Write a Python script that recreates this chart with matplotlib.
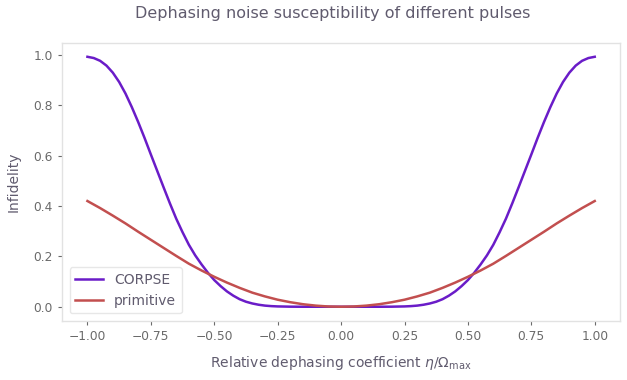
import matplotlib
matplotlib.use("Agg")
import matplotlib.pyplot as plt

# relative dephasing coefficient eta / Omega_max, CORPSE sampled more finely
eta_corpse = [-1.000, -0.975, -0.950, -0.925, -0.900, -0.875, -0.850, -0.825, -0.800, -0.775,
              -0.750, -0.725, -0.700, -0.675, -0.650, -0.625, -0.600, -0.575, -0.550, -0.525,
              -0.500, -0.475, -0.450, -0.425, -0.400, -0.375, -0.350, -0.325, -0.300, -0.275,
              -0.250, -0.200, -0.150, -0.100, 0.000, 0.100, 0.150, 0.200, 0.250,
              0.275, 0.300, 0.325, 0.350, 0.375, 0.400, 0.425, 0.450, 0.475, 0.500,
              0.525, 0.550, 0.575, 0.600, 0.625, 0.650, 0.675, 0.700, 0.725, 0.750,
              0.775, 0.800, 0.825, 0.850, 0.875, 0.900, 0.925, 0.950, 0.975, 1.000]

corpse = [0.993, 0.988, 0.977, 0.958, 0.930, 0.893, 0.847, 0.793, 0.734, 0.671,
          0.605, 0.540, 0.475, 0.411, 0.350, 0.296, 0.246, 0.204, 0.168, 0.135,
          0.106, 0.082, 0.061, 0.044, 0.030, 0.020, 0.013, 0.008, 0.0045, 0.0025,
          0.0013, 0.0003, 0.0, 0.0, 0.0, 0.0, 0.0, 0.0003, 0.0013,
          0.0025, 0.0045, 0.008, 0.013, 0.020, 0.030, 0.044, 0.061, 0.082, 0.106,
          0.135, 0.168, 0.204, 0.246, 0.296, 0.350, 0.411, 0.475, 0.540, 0.605,
          0.671, 0.734, 0.793, 0.847, 0.893, 0.930, 0.958, 0.977, 0.988, 0.993]

eta_prim = [-1.00, -0.95, -0.90, -0.85, -0.80, -0.75, -0.70, -0.65, -0.60, -0.55,
            -0.50, -0.45, -0.40, -0.35, -0.30, -0.25, -0.20, -0.15, -0.10, -0.05,
            0.00, 0.05, 0.10, 0.15, 0.20, 0.25, 0.30, 0.35, 0.40, 0.45,
            0.50, 0.55, 0.60, 0.65, 0.70, 0.75, 0.80, 0.85, 0.90, 0.95, 1.00]

primitive = [0.420, 0.392, 0.362, 0.331, 0.298, 0.266, 0.234, 0.202, 0.171, 0.144,
             0.119, 0.096, 0.075, 0.056, 0.041, 0.028, 0.018, 0.010, 0.0045, 0.001,
             0.0, 0.001, 0.0045, 0.010, 0.018, 0.028, 0.041, 0.056, 0.075, 0.096,
             0.119, 0.144, 0.171, 0.202, 0.234, 0.266, 0.298, 0.331, 0.362, 0.392, 0.420]

xtick_vals = [-1.0, -0.75, -0.5, -0.25, 0.0, 0.25, 0.5, 0.75, 1.0]
xtick_labels = ["\u22121.00", "\u22120.75", "\u22120.50", "\u22120.25", "0.00",
                "0.25", "0.50", "0.75", "1.00"]
ytick_vals = [0.0, 0.2, 0.4, 0.6, 0.8, 1.0]

text_col = "#605B6E"
tick_col = "#6A6A6A"
spine_col = "#E2E2E2"

fig = plt.figure(figsize=(6.27, 3.8), dpi=100)
ax = fig.add_axes([0.099, 0.155, 0.890, 0.732])

ax.plot(eta_corpse, corpse, color="#6A1CC8", lw=1.8, label="CORPSE")
ax.plot(eta_prim, primitive, color="#C24F4F", lw=1.8, label="primitive")

ax.set_xticks(xtick_vals)
ax.set_xticklabels(xtick_labels)
ax.set_yticks(ytick_vals)
ax.set_xlim(-1.1, 1.1)
ax.set_ylim(-0.057, 1.048)

for s in ax.spines.values():
    s.set_color(spine_col)
    s.set_linewidth(1.0)
ax.tick_params(colors=tick_col, labelsize=8.8, length=3, width=0.8)
for t in ax.get_xticklabels() + ax.get_yticklabels():
    t.set_color(tick_col)

ax.set_xlabel(r"Relative dephasing coefficient $\eta/\Omega_{\max}$",
              color=text_col, fontsize=10, labelpad=8)
ax.set_ylabel("Infidelity", color=text_col, fontsize=10, labelpad=9)
fig.suptitle("Dephasing noise susceptibility of different pulses",
             color=text_col, fontsize=11.5, x=0.530, y=0.985)

leg = ax.legend(loc="lower left", fontsize=10, frameon=True,
                handlelength=2.0, borderaxespad=0.55)
leg.get_frame().set_edgecolor(spine_col)
for t in leg.get_texts():
    t.set_color(text_col)

fig.savefig("out.png", dpi=100)
